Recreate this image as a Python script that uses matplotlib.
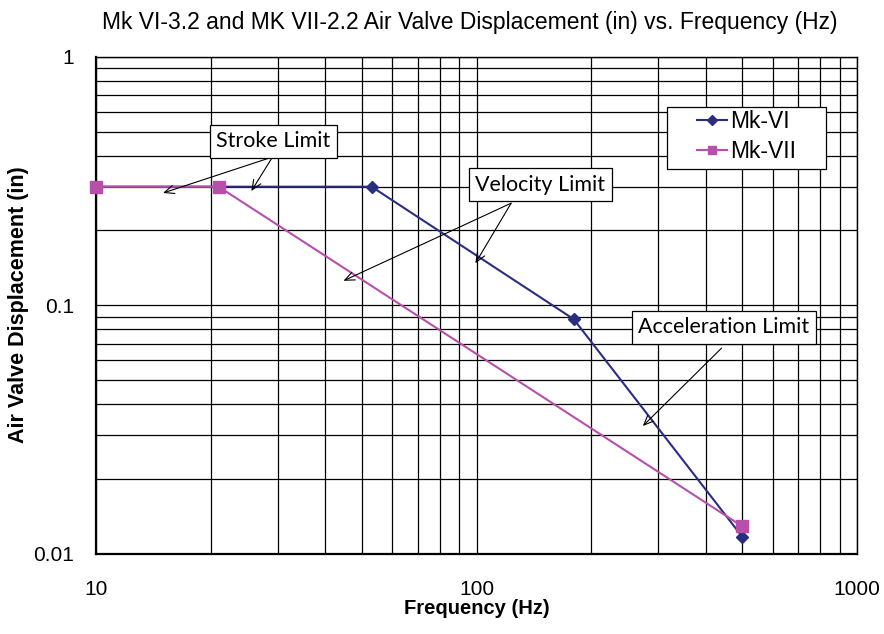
import matplotlib.pyplot as plt
from matplotlib.patches import Rectangle
from matplotlib.ticker import FixedLocator, NullFormatter, LogLocator

# data
mk6_freq = [10, 53, 180, 500]
mk6_disp = [0.3, 0.3, 0.088, 0.0117]
mk7_freq = [10, 21, 500]
mk7_disp = [0.3, 0.3, 0.0129]

# annotation boxes: label, box centre, arrow start, arrow tips (data coords)
notes = [
    ("Stroke Limit", (29.2, 0.456), (29.1, 0.395), [(15.0, 0.283), (25.6, 0.288)]),
    ("Velocity Limit", (147, 0.305), (123.3, 0.2575), [(44.7, 0.1255), (99.3, 0.1475)]),
    ("Acceleration Limit", (447, 0.0817), (440.6, 0.0673), [(273.5, 0.0327)]),
]

navy = "#2B2E80"
magenta = "#B84FAA"

plt.rcParams['font.family'] = ['Liberation Sans', 'DejaVu Sans']

fig = plt.figure(figsize=(8.84, 6.34), dpi=100)
ax = fig.add_axes([0.1086, 0.1262, 0.8609, 0.7844])

ax.plot(mk6_freq, mk6_disp, color=navy, lw=1.5, marker='D', ms=6.5,
        label='Mk-VI', clip_on=False, zorder=3)
ax.plot(mk7_freq, mk7_disp, color=magenta, lw=1.5, marker='s', ms=8,
        label='Mk-VII', clip_on=False, zorder=4)

ax.set_xscale('log')
ax.set_yscale('log')
ax.set_xlim(10, 1000)
ax.set_ylim(0.01, 1)

ax.xaxis.set_major_locator(FixedLocator([10, 100, 1000]))
ax.yaxis.set_major_locator(FixedLocator([0.01, 0.1, 1]))
ax.set_xticklabels(['10', '100', '1000'])
ax.set_yticklabels(['0.01', '0.1', '1'])
ax.xaxis.set_minor_locator(LogLocator(base=10, subs=range(2, 10)))
ax.yaxis.set_minor_locator(LogLocator(base=10, subs=range(2, 10)))
ax.xaxis.set_minor_formatter(NullFormatter())
ax.yaxis.set_minor_formatter(NullFormatter())
ax.tick_params(which='both', length=0, labelsize=15)
ax.tick_params(axis='x', pad=19)
ax.tick_params(axis='y', pad=16)

ax.grid(which='both', color='black', lw=0.9)
for s in ax.spines.values():
    s.set_color('black')
    s.set_linewidth(1.0)
ax.spines['left'].set_linewidth(1.6)
ax.spines['bottom'].set_linewidth(1.6)

fig.text(477 / 884, 1 - 608 / 634, 'Frequency (Hz)', ha='center', va='center',
         fontsize=14.5, fontweight='bold')
fig.text(19 / 884, 1 - 305 / 634, 'Air Valve Displacement (in)', ha='center', va='center',
         rotation=90, fontsize=15.5, fontweight='bold')
fig.text(470 / 884, 1 - 22 / 634, 'Mk VI-3.2 and MK VII-2.2 Air Valve Displacement (in) vs. Frequency (Hz)',
         ha='center', va='center', fontsize=16.5)

for label, centre, start, tips in notes:
    ax.text(centre[0], centre[1], label, ha='center', va='center', fontsize=15.5,
            family=['Lato', 'DejaVu Sans'], zorder=6,
            bbox=dict(boxstyle='square,pad=0.3', fc='white', ec='black', lw=0.9))
    for tip in tips:
        ax.annotate('', xy=tip, xytext=start, zorder=5,
                    arrowprops=dict(arrowstyle='->,head_length=0.7,head_width=0.3',
                                    color='black', lw=0.8, shrinkA=0, shrinkB=0))

# legend frame drawn by hand: wide side padding, tight top/bottom
ax.add_patch(Rectangle((0.7503, 0.7742), 0.2090, 0.1247, transform=ax.transAxes,
                       fc='white', ec='black', lw=0.9, zorder=7))
leg = ax.legend(loc='upper left', bbox_to_anchor=(0.7898, 0.893), fontsize=16.5,
                frameon=False, borderpad=0, borderaxespad=0,
                handlelength=1.3, labelspacing=0.3, handletextpad=0.15,
                markerscale=0.8)
leg.set_zorder(8)

fig.savefig('out.png', dpi=100)
